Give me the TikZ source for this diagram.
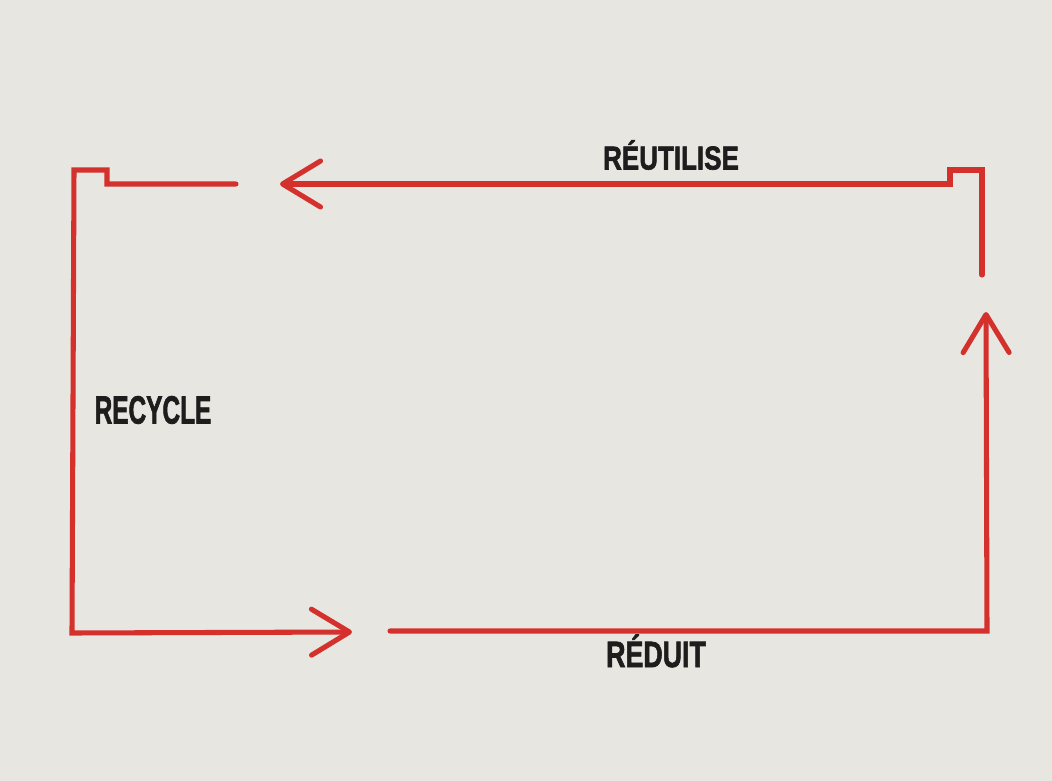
\documentclass[tikz,border=0pt]{standalone}
\usepackage{fontspec}
\setmainfont{Liberation Sans}[BoldFeatures={FakeBold=2}]
\usepackage{graphicx}
\usetikzlibrary{arrows.meta,positioning}

\definecolor{paper}{RGB}{231,230,225}
\definecolor{loopred}{RGB}{212,48,44}
\definecolor{ink}{RGB}{30,28,28}

\begin{document}
\begin{tikzpicture}[
    x=0.025cm, y=-0.025cm,
    loop/.style={draw=loopred, line width=3.6pt, line cap=round, line join=miter},
    arw/.style={loop, -{Straight Barb[length=9.5mm, width=11.5mm, round]}},
    word/.style={font=\fontsize{28}{28}\selectfont\bfseries, text=ink, inner sep=0pt},
  ]
    % Page
    \fill[paper] (0,0) rectangle (1052,781);
    \useasboundingbox (0,0) rectangle (1052,781);

    % Corners of the loop
    \coordinate (bl) at (72,633);
    \coordinate (tl) at (74,170);
    \coordinate (tlstep) at (107,170);
    \coordinate (tlin) at (107,184);
    \coordinate (topgap) at (236,184);
    \coordinate (toptip) at (280,184);
    \coordinate (trin) at (950,184);
    \coordinate (trstep) at (950,170);
    \coordinate (tr) at (982,170);
    \coordinate (rightgap) at (982,275);
    \coordinate (righttip) at (986,312);
    \coordinate (br) at (987,631);
    \coordinate (botgap) at (390,631);
    \coordinate (bottip) at (352,632);

    % Labels
    \node[word] (reuse) at (671,155) {\scalebox{0.66}[0.84]{RÉUTILISE}};
    \node[word] (recycle) at (153,410) {\scalebox{0.62}[1.0]{RECYCLE}};
    \node[word] (reduce) at (656,651) {\scalebox{0.68}[0.93]{RÉDUIT}};

    % Reduce -> reuse
    \draw[arw] (botgap) -- (br) -- (righttip);

    % Reuse -> recycle
    \draw[arw] (rightgap) -- (tr) -- (trstep) -- (trin) -- (toptip);

    % Recycle -> reduce
    \draw[arw] (topgap) -- (tlin) -- (tlstep) -- (tl) -- (bl) -- (bottip);

  \end{tikzpicture}
\end{document}
